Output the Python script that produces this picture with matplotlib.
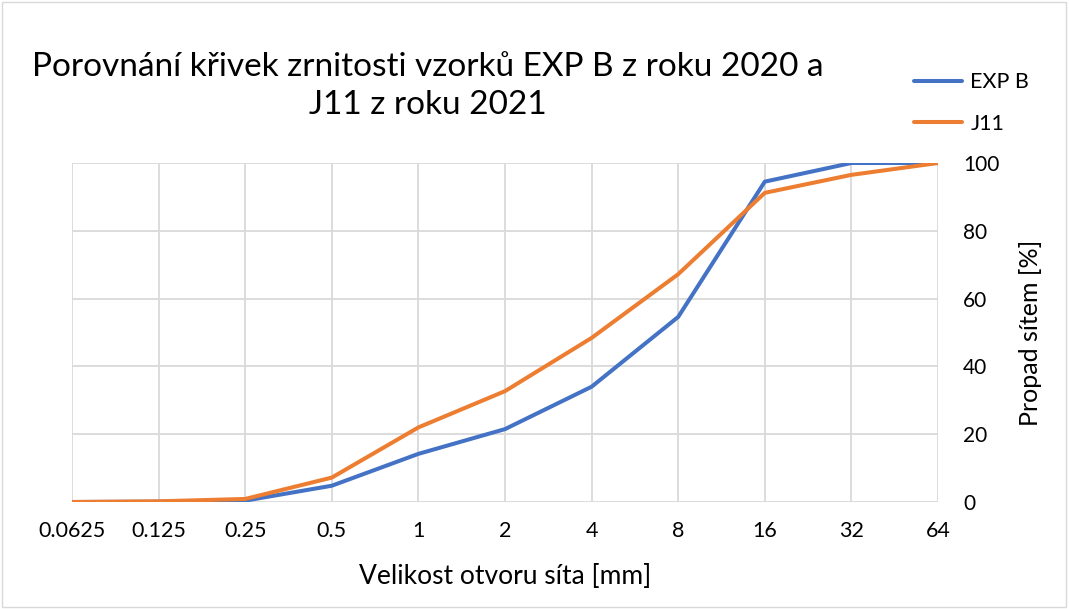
import matplotlib.pyplot as plt
from matplotlib.patches import Rectangle

plt.rcParams['font.family'] = ['Lato', 'DejaVu Sans']

sieves = ['0.0625', '0.125', '0.25', '0.5', '1', '2', '4', '8', '16', '32', '64']
exp_b = [0, 0.1, 0.4, 4.8, 14.2, 21.5, 34, 54.6, 94.5, 100, 100]
j11 = [0, 0.2, 0.9, 7.2, 22, 32.7, 48.4, 67.2, 91.2, 96.5, 100]

fig = plt.figure(figsize=(10.69, 6.09), dpi=100)
ax = fig.add_axes([72 / 1069, 1 - 502 / 609, (938 - 72) / 1069, (502 - 163) / 609])

x = list(range(len(sieves)))
ax.plot(x, exp_b, color='#4472C4', lw=2.9, label='EXP B', solid_capstyle='round')
ax.plot(x, j11, color='#ED7D31', lw=2.9, label='J11', solid_capstyle='round')

ax.set_xlim(0, len(sieves) - 1)
ax.set_ylim(0, 100)
ax.set_xticks(x)
ax.set_xticklabels(sieves, fontsize=15.5)
ax.set_yticks(range(0, 101, 20))
ax.yaxis.tick_right()
ax.yaxis.set_label_position('right')
ax.tick_params(axis='y', labelsize=15, length=0, pad=18)
ax.tick_params(axis='x', length=0, pad=14)
for lbl in ax.get_yticklabels():
    lbl.set_horizontalalignment('left')
ax.grid(True, color='#D9D9D9', lw=1.3)
ax.set_axisbelow(True)
for s in ax.spines.values():
    s.set_visible(False)

ax.set_xlabel('Velikost otvoru síta [mm]', fontsize=19, labelpad=16)
ax.set_ylabel('Propad sítem [%]', fontsize=18, labelpad=14)

fig.text(428 / 1069, 1 - 86 / 609,
         'Porovnání křivek zrnitosti vzorků EXP B z roku 2020 a\nJ11 z roku 2021',
         fontsize=24, ha='center', va='center', linespacing=1.35)

ax.legend(loc='upper left', bbox_to_anchor=(895 / 1069, 1 - 53 / 609),
          bbox_transform=fig.transFigure, frameon=False, fontsize=15.5,
          handlelength=2.2, labelspacing=1.0, handletextpad=0.4)

fig.patches.append(Rectangle((0.002, 0.003), 0.995, 0.994, transform=fig.transFigure,
                             fill=False, edgecolor='#D9D9D9', lw=1))

fig.savefig('out.png', dpi=100)
